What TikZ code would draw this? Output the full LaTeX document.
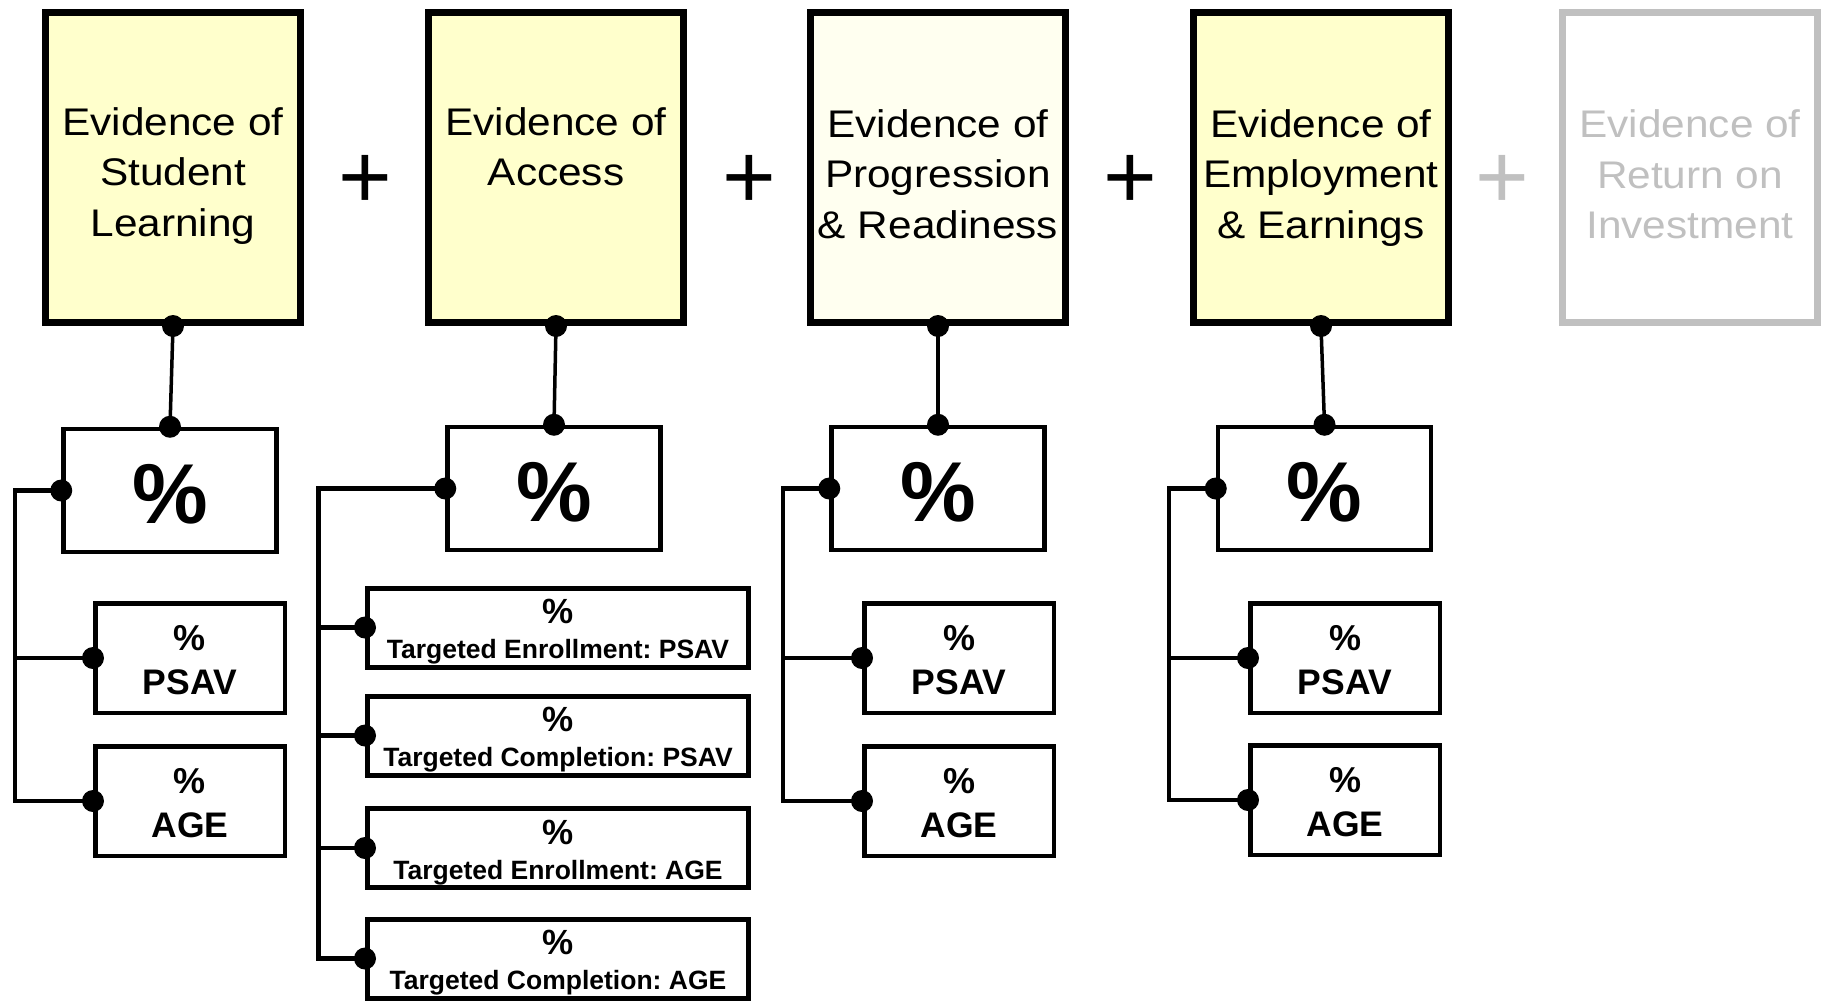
\documentclass[tikz,border=0pt]{standalone}
\usepackage{fontspec}
\setmainfont{Liberation Sans}
\newfontfamily\widesans[FakeStretch=1.1]{Liberation Sans}
\definecolor{boxyellow}{HTML}{FFFFCC}
\definecolor{boxivory}{HTML}{FFFFF0}
\definecolor{fadegray}{HTML}{C0C0C0}
\frenchspacing
\begin{document}
\begin{tikzpicture}[x=1pt,y=-1pt,
  topbox/.style={draw, line width=7pt, minimum width=255pt, minimum height=310pt, inner sep=0pt, fill=boxyellow},
  pctbox/.style={draw, line width=4.5pt, minimum width=213pt, minimum height=123pt, inner sep=0pt, fill=white},
  subbox/.style={draw, line width=4.5pt, minimum width=189.5pt, minimum height=109.5pt, inner sep=0pt, fill=white},
  accbox/.style={draw, line width=5pt, minimum width=381pt, minimum height=79pt, inner sep=0pt, fill=white},
  toptext/.style={anchor=base, inner sep=0pt, font=\widesans\fontsize{38.5}{46}\selectfont},
  plussign/.style={anchor=base, inner sep=0pt, font=\fontsize{92}{100}\selectfont},
  bigpct/.style={anchor=base, inner sep=0pt, font=\bfseries\fontsize{85}{90}\selectfont},
  subpct/.style={anchor=base, inner sep=0pt, font=\bfseries\fontsize{36}{40}\selectfont},
  subtext/.style={anchor=base, inner sep=0pt, font=\bfseries\fontsize{35.5}{40}\selectfont},
  accpct/.style={anchor=base, inner sep=0pt, font=\bfseries\fontsize{35}{40}\selectfont},
  acctext/.style={anchor=base, inner sep=0pt, font=\bfseries\fontsize{26.5}{30}\selectfont},
  vconn/.style={draw, line width=3.5pt},
  bconn/.style={draw, line width=4.5pt},
  dotr/.style={fill=black}
]
\useasboundingbox[fill=white] (0,0) rectangle (1824,1002);

% top boxes
\node[topbox] (T1) at (173,167.5) {};
\node[topbox] (T2) at (556,167.5) {};
\node[topbox, fill=boxivory] (T3) at (938,167.5) {};
\node[topbox] (T4) at (1321,167.5) {};
\node[topbox, draw=fadegray, fill=white] (T5) at (1690,167.5) {};

\node[toptext] (t1a) at (173,135) {Evidence of};
\node[toptext] (t1b) at (173,185.5) {Student};
\node[toptext] (t1c) at (173,236) {Learning};
\node[toptext] (t2a) at (556,135) {Evidence of};
\node[toptext] (t2b) at (556,185.5) {Access};
\node[toptext] (t3a) at (938,137) {Evidence of};
\node[toptext] (t3b) at (938,187.5) {Progression};
\node[toptext] (t3c) at (938,238) {\& Readiness};
\node[toptext] (t4a) at (1321,137) {Evidence of};
\node[toptext] (t4b) at (1321,187.5) {Employment};
\node[toptext] (t4c) at (1321,238) {\& Earnings};
\node[toptext, text=fadegray] (t5a) at (1690,137.5) {Evidence of};
\node[toptext, text=fadegray] (t5b) at (1690,188) {Return on};
\node[toptext, text=fadegray] (t5c) at (1690,238.5) {Investment};

% plus signs
\node[plussign] (plus1) at (365.7,208) {+};
\node[plussign] (plus2) at (749.5,208) {+};
\node[plussign] (plus3) at (1130,208) {+};
\node[plussign, text=fadegray] (plus4) at (1502,208) {+};

% percent boxes
\node[pctbox] (P1) at (170,490.5) {};
\node[pctbox] (P2) at (554,488.5) {};
\node[pctbox] (P3) at (938,488.5) {};
\node[pctbox] (P4) at (1324.5,488.5) {};
\node[bigpct] (p1t) at (170,523) {\%};
\node[bigpct] (p2t) at (554,521) {\%};
\node[bigpct] (p3t) at (938,521) {\%};
\node[bigpct] (p4t) at (1324.5,521) {\%};

% PSAV / AGE boxes
\node[subbox] (S1) at (190,658) {};
\node[subbox] (A1) at (190,801) {};
\node[subbox] (S3) at (959,658) {};
\node[subbox] (A3) at (959,801) {};
\node[subbox] (S4) at (1345,658) {};
\node[subbox] (A4) at (1345,800) {};
\node[subpct] (s1p) at (190,650) {\%};
\node[subtext] (s1t) at (190,694) {PSAV};
\node[subpct] (a1p) at (190,793) {\%};
\node[subtext] (a1t) at (190,837) {AGE};
\node[subpct] (s3p) at (959,650) {\%};
\node[subtext] (s3t) at (959,694) {PSAV};
\node[subpct] (a3p) at (959,793) {\%};
\node[subtext] (a3t) at (959,837) {AGE};
\node[subpct] (s4p) at (1345,650) {\%};
\node[subtext] (s4t) at (1345,694) {PSAV};
\node[subpct] (a4p) at (1345,792) {\%};
\node[subtext] (a4t) at (1345,836) {AGE};

% access boxes
\node[accbox] (E1) at (558,627.5) {};
\node[accbox] (E2) at (558,735.5) {};
\node[accbox] (E3) at (558,848) {};
\node[accbox] (E4) at (558,958.5) {};
\node[accpct] (e1p) at (558,623.5) {\%};
\node[acctext] (e1t) at (558,658.5) {Targeted Enrollment: PSAV};
\node[accpct] (e2p) at (558,731.5) {\%};
\node[acctext] (e2t) at (558,766.5) {Targeted Completion: PSAV};
\node[accpct] (e3p) at (558,844) {\%};
\node[acctext] (e3t) at (558,879) {Targeted Enrollment: AGE};
\node[accpct] (e4p) at (558,954.5) {\%};
\node[acctext] (e4t) at (558,989.5) {Targeted Completion: AGE};

% bracket columns
\coordinate (k1) at (15,0);
\coordinate (k2) at (318.5,0);
\coordinate (k3) at (783,0);
\coordinate (k4) at (1169,0);

% vertical connectors
\draw[vconn] (T1.south) -- (P1.north);
\draw[vconn] (T2.south) -- (P2.north);
\draw[vconn] (T3.south) -- (P3.north);
\draw[vconn] (T4.south) -- (P4.north);

% bracket connectors
\draw[bconn] (P1.west) -- (P1.west -| k1) |- (A1.west);
\draw[bconn] (P1.west -| k1) |- (S1.west);
\draw[bconn] (P2.west) -- (P2.west -| k2) |- (E4.west);
\draw[bconn] (P2.west -| k2) |- (E1.west);
\draw[bconn] (P2.west -| k2) |- (E2.west);
\draw[bconn] (P2.west -| k2) |- (E3.west);
\draw[bconn] (P3.west) -- (P3.west -| k3) |- (A3.west);
\draw[bconn] (P3.west -| k3) |- (S3.west);
\draw[bconn] (P4.west) -- (P4.west -| k4) |- (A4.west);
\draw[bconn] (P4.west -| k4) |- (S4.west);

% dots
\foreach \n in {T1.south,T2.south,T3.south,T4.south,P1.north,P2.north,P3.north,P4.north,
  P1.west,P2.west,P3.west,P4.west,S1.west,A1.west,S3.west,A3.west,S4.west,A4.west,
  E1.west,E2.west,E3.west,E4.west}
  \fill[dotr] (\n) circle (11pt);
\end{tikzpicture}
\end{document}
